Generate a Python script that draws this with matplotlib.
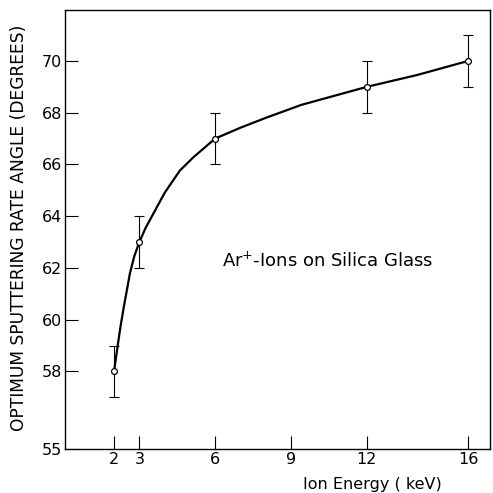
import matplotlib
matplotlib.use("Agg")
import matplotlib.pyplot as plt

# measured points (keV, degrees) with +-1 degree error bars
energy = [2, 3, 6, 12, 16]
angle = [58, 63, 67, 69, 70]
err = [1, 1, 1, 1, 1]

# smooth hand-drawn curve
curve_x = [2.0, 2.13, 2.25, 2.37, 2.5, 2.63, 2.8, 3.0, 3.25, 3.5, 4.0, 4.6,
           5.14, 6.0, 7.0, 8.0, 9.4, 12.0, 14.0, 16.0]
curve_y = [58.0, 58.9, 59.7, 60.4, 61.1, 61.8, 62.45, 63.0, 63.55, 64.0, 64.9, 65.76,
           66.28, 67.0, 67.42, 67.8, 68.3, 69.0, 69.46, 70.0]

xticks = [2, 3, 6, 9, 12, 16]
yticks = [55, 58, 60, 62, 64, 66, 68, 70]

plt.rcParams['font.family'] = ['DejaVu Sans']

fig = plt.figure(figsize=(4.93, 4.93), dpi=100)
ax = fig.add_axes([65/493, 1-449/493, 425/493, 439/493])

ax.plot(curve_x, curve_y, color='black', lw=1.6, zorder=2)
ax.errorbar(energy, angle, yerr=err, fmt='none', ecolor='black',
            elinewidth=0.8, capsize=3.6, capthick=0.8, zorder=3)
ax.plot(energy, angle, 'o', ms=4.2, mfc='white', mec='black', mew=0.9, zorder=4)

ax.set_xlim(0.06, 16.87)
ax.set_ylim(55, 71.97)
ax.set_xticks(xticks)
ax.set_yticks(yticks)
ax.tick_params(direction='in', length=9.5, width=0.8, labelsize=11.5,
               top=False, right=False)
ax.tick_params(axis='x', pad=2.5)
ax.tick_params(axis='y', pad=2)
for s in ax.spines.values():
    s.set_linewidth(1.0)

ax.text(14.61, 62.04, 'Ar$^{+}$-Ions on Silica Glass', fontsize=13,
        ha='right', va='baseline')

fig.text(372.5/493, 1-489/493, 'Ion Energy ( keV)', fontsize=11.5,
         ha='center', va='baseline')
fig.text(19/493, 1-227.5/493, 'OPTIMUM SPUTTERING RATE ANGLE (DEGREES)',
         fontsize=12.3, rotation=90, ha='center', va='center')

fig.savefig('out.png', dpi=100)
